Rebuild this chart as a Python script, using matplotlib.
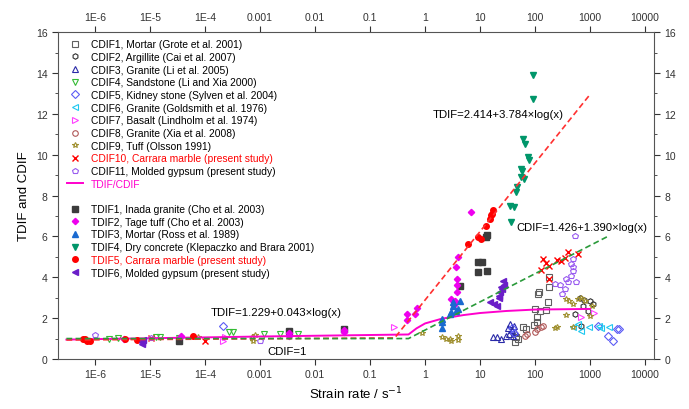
import matplotlib
matplotlib.use("Agg")
import matplotlib.pyplot as plt
from matplotlib.lines import Line2D

plt.rcParams['font.family'] = ['Liberation Sans', 'DejaVu Sans']

# CDIF data (open markers)
x1 = [43, 46, 50, 60, 69, 95, 100, 110, 110, 112, 120, 123, 158, 170, 182, 182]
y1 = [0.82, 1.06, 1.0, 1.55, 1.47, 1.66, 2.45, 1.8, 2.04, 3.18, 3.26, 2.36, 2.4, 2.77, 3.51, 4.0]
x2 = [525, 646, 692, 741, 794, 912, 1000, 1122]
y2 = [2.2, 3.01, 1.6, 2.6, 2.9, 2.36, 2.85, 2.69]
x3 = [17, 20, 24.5, 29.5, 31.6, 34, 35.5, 38, 40, 41.7, 43.7]
y3 = [1.06, 1.1, 0.98, 1.14, 1.5, 1.2, 1.71, 1.4, 1.14, 1.6, 1.3]
x4 = [1.8e-6, 2.6e-6, 1.3e-5, 1.5e-5, 3.4e-5, 2.75e-4, 3.2e-4, 1.17e-3, 2.3e-3, 4.8e-3]
y4 = [0.97, 1.01, 1.06, 1.06, 1.01, 1.33, 1.3, 1.22, 1.22, 1.22]
x5 = [2.1e-4, 38, 42, 1380, 2090, 2570, 3160, 3400]
y5 = [1.6, 1.5, 1.25, 1.6, 1.14, 0.9, 1.47, 1.45]
x6 = [490, 600, 692, 977, 1480, 1580, 2240]
y6 = [1.55, 1.71, 1.39, 1.55, 1.6, 1.5, 1.55]
x7 = [2.1e-4, 2.3e-4, 0.27, 692, 1200]
y7 = [0.9, 1.1, 1.55, 2.04, 2.26]
x8 = [65, 70, 98, 110, 130, 140]
y8 = [1.14, 1.22, 1.3, 1.45, 1.55, 1.6]
x9 = [7.4e-5, 7.2e-4, 7.5e-4, 8e-4, 0.87, 2.0, 2.4, 2.8, 3.0, 4.0, 4.0,
      230, 250, 370, 370, 420, 490, 490, 600, 690, 800, 1000, 1100]
y9 = [1.06, 1.06, 0.9, 1.17, 1.28, 1.06, 1.0, 1.0, 0.9, 1.14, 0.95,
      1.5, 1.58, 2.94, 2.15, 2.85, 2.69, 1.55, 2.94, 3.0, 2.85, 2.12, 2.6]
x10 = [1.05e-5, 1e-4, 129, 138, 158, 182, 182, 251, 302, 355, 398, 603]
y10 = [1.02, 0.9, 4.37, 4.89, 4.7, 4.56, 3.91, 4.85, 4.81, 4.95, 5.22, 5.14]
x11 = [1e-6, 1.05e-5, 1e-3, 229, 282, 309, 355, 372, 398, 457, 457, 490, 490, 500, 525, 562]
y11 = [1.17, 1.01, 0.9, 3.67, 3.6, 3.18, 3.42, 3.91, 3.75, 4.65, 4.08, 4.89, 4.49, 4.3, 6.03, 3.75]

# TDIF data (filled markers)
xt1 = [3.4e-5, 3.3e-3, 3.3e-2, 4.3, 9.3, 9.3, 10.7, 12.6, 13.2, 13.5]
yt1 = [0.9, 1.39, 1.47, 3.59, 4.24, 4.73, 4.73, 5.97, 6.05, 4.32]
xt2 = [3.4e-6, 3.6e-5, 3.3e-3, 3.3e-3, 3.3e-2, 3.3e-2, 0.47, 0.47, 0.66, 0.71,
       3.0, 3.3, 3.5, 3.8, 3.85, 3.85, 3.7, 4.0, 6.8]
yt2 = [0.98, 1.14, 1.14, 1.25, 1.3, 1.42, 1.9, 2.2, 2.2, 2.48,
       2.94, 2.64, 2.85, 3.28, 3.6, 3.91, 4.48, 4.97, 7.18]
xt3 = [2.0, 2.0, 2.0, 2.8, 3.0, 3.2, 3.2, 3.6, 4.0, 4.3]
yt3 = [1.5, 1.8, 1.96, 2.2, 2.3, 2.6, 2.77, 2.36, 2.45, 2.85]
xt4 = [35, 37, 41, 45, 47, 55, 55, 58, 60, 63, 66, 76, 78, 93, 93]
yt4 = [7.5, 6.69, 7.42, 8.18, 8.4, 9.3, 8.9, 9.2, 10.76, 8.8, 10.52, 9.88, 9.75, 12.72, 13.9]
xt5 = [6e-7, 6.5e-7, 7e-7, 8e-7, 3.5e-6, 5.7e-6, 5.9e-5, 6.0, 9.3, 10.2, 12.9, 15.3, 15.8, 16.5, 17.4]
yt5 = [0.98, 1.0, 0.9, 0.9, 0.98, 0.92, 1.14, 5.63, 5.95, 5.87, 6.52, 6.85, 7.05, 7.1, 7.3]
xt6 = [7e-6, 7e-6, 7.5e-6, 15, 18, 20, 22, 22, 23, 24, 25, 26, 27]
yt6 = [0.85, 0.73, 0.95, 2.77, 2.69, 2.57, 3.1, 3.0, 3.26, 3.5, 3.42, 3.83, 3.6]

# fitted / ratio curves (vertices)
ratio_x = [3e-7, 1e-3, 0.5, 0.7, 1, 2, 5, 10, 30, 100, 1000]
ratio_y = [0.95, 1.1, 1.2, 1.5, 1.74, 1.97, 2.15, 2.25, 2.35, 2.42, 2.45]
tfit_x = [3e-7, 0.28, 1000]
tfit_y = [0.93, 1.03, 12.95]
cfit_x = [3e-7, 0.5, 2100]
cfit_y = [1.0, 1.0, 6.0]

xticks = [1e-6, 1e-5, 1e-4, 1e-3, 1e-2, 0.1, 1, 10, 100, 1000, 10000]
xlabels = ["1E-6", "1E-5", "1E-4", "0.001", "0.01", "0.1", "1", "10", "100", "1000", "10000"]

fig = plt.figure(figsize=(6.89, 4.10), dpi=100)
ax = fig.add_axes([0.084, 0.122, 0.865, 0.797])

ms = 4.0
cdif = [
    (x1, y1, 's', '#606060', 'CDIF1, Mortar (Grote et al. 2001)'),
    (x2, y2, 'h', '#303030', 'CDIF2, Argillite (Cai et al. 2007)'),
    (x3, y3, '^', '#2a2aa8', 'CDIF3, Granite (Li et al. 2005)'),
    (x4, y4, 'v', '#33bb33', 'CDIF4, Sandstone (Li and Xia 2000)'),
    (x5, y5, 'D', '#5b5bf5', 'CDIF5, Kidney stone (Sylven et al. 2004)'),
    (x6, y6, '<', '#1ec8f0', 'CDIF6, Granite (Goldsmith et al. 1976)'),
    (x7, y7, '>', '#ff40ff', 'CDIF7, Basalt (Lindholm et al. 1974)'),
    (x8, y8, 'o', '#b05858', 'CDIF8, Granite (Xia et al. 2008)'),
    (x9, y9, '*', '#a09030', 'CDIF9, Tuff (Olsson 1991)'),
    (x10, y10, 'x', '#ff0000', 'CDIF10, Carrara marble (present study)'),
    (x11, y11, 'p', '#9a5cf0', 'CDIF11, Molded gypsum (present study)'),
]
tdif = [
    (xt1, yt1, 's', '#3c3c3c', 'TDIF1, Inada granite (Cho et al. 2003)'),
    (xt2, yt2, 'D', '#ee00ee', 'TDIF2, Tage tuff (Cho et al. 2003)'),
    (xt3, yt3, '^', '#1a6ad0', 'TDIF3, Mortar (Ross et al. 1989)'),
    (xt4, yt4, 'v', '#00966a', 'TDIF4, Dry concrete (Klepaczko and Brara 2001)'),
    (xt5, yt5, 'o', '#ff0000', 'TDIF5, Carrara marble (present study)'),
    (xt6, yt6, '<', '#6a1ec8', 'TDIF6, Molded gypsum (present study)'),
]

handles = []
for xs, ys, m, c, lab in cdif:
    if m == 'x':
        h, = ax.plot(xs, ys, ls='none', marker=m, ms=ms + 1, mec=c, mew=1.0, label=lab)
    else:
        h, = ax.plot(xs, ys, ls='none', marker=m, ms=ms, mfc='none', mec=c, mew=0.8, label=lab)
    handles.append(h)
hr, = ax.plot(ratio_x, ratio_y, color='#ff00cc', lw=1.4, label='TDIF/CDIF')
handles.append(hr)
handles.append(Line2D([], [], ls='none', label=' '))
for xs, ys, m, c, lab in tdif:
    ms2 = ms - 0.8 if m == 'D' else ms
    h, = ax.plot(xs, ys, ls='none', marker=m, ms=ms2, mfc=c, mec=c, label=lab)
    handles.append(h)

ax.plot(tfit_x, tfit_y, color='#ff3030', lw=1.2, ls=(0, (3.5, 2)))
ax.plot(cfit_x, cfit_y, color='#2a9a3a', lw=1.2, ls=(0, (3.5, 2)))

ax.text(1.4, 12.0, 'TDIF=2.414+3.784\u00d7log(x)', fontsize=8.2, va='center')
ax.text(46, 6.44, 'CDIF=1.426+1.390\u00d7log(x)', fontsize=8.1, va='center')
ax.text(1.26e-4, 2.28, 'TDIF=1.229+0.043\u00d7log(x)', fontsize=8.2, va='center')
ax.text(1.35e-3, 0.38, 'CDIF=1', fontsize=8.2, va='center')

leg = ax.legend(handles=handles, loc='upper left', bbox_to_anchor=(0.003, 1.0),
                frameon=False, fontsize=7.4, handlelength=1.6, handletextpad=0.75,
                labelspacing=0.26, borderaxespad=0.3)
for t in leg.get_texts():
    s = t.get_text()
    if 'Carrara' in s:
        t.set_color('#ff0000')
    elif s == 'TDIF/CDIF':
        t.set_color('#ff00cc')

ax.set_xscale('log')
ax.set_xlim(2.1e-7, 1.45e4)
ax.set_ylim(0, 16)
ax.set_xticks(xticks)
ax.set_xticklabels(xlabels)
ax.set_yticks(range(0, 17, 2))
ax.set_yticks(range(0, 17), minor=True)
ax.tick_params(which='both', direction='out', top=True, right=True,
               labeltop=True, labelright=True, labelsize=7.5, colors='#333333')
ax.tick_params(which='major', length=4, width=0.8)
ax.tick_params(which='minor', length=2, width=0.6)
for sp in ax.spines.values():
    sp.set_color('#555555')
    sp.set_linewidth(0.8)

ax.set_xlabel('Strain rate / s$^{-1}$', fontsize=9.5)
ax.set_ylabel('TDIF and CDIF', fontsize=9.5, labelpad=4)

fig.savefig('out.png', dpi=100)
